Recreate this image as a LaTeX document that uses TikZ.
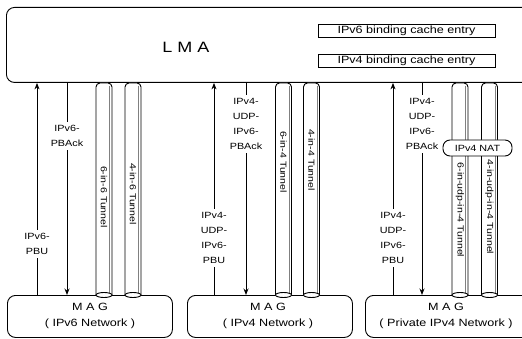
\documentclass[tikz,border=0pt]{standalone}
\usepackage{fontspec}
\setmainfont{Liberation Sans}[FakeStretch=1.2]
\usetikzlibrary{arrows.meta}
\newcommand\mytube[4]{%
  \draw[rounded corners=4pt, fill=white] (#1-8,295) -- (#1-8,83) -- (#1+8,83) -- (#1+8,295);
  \draw[gray, line width=0.4pt] (#1+5.5,86) -- (#1+5.5,293);
  \draw[fill=white] (#1,295) ellipse [x radius=8, y radius=2.5];
  \node[tun] (#4) at (#1,#2) {#3};
}
\begin{document}
\begin{tikzpicture}[x=1pt,y=-1pt, line width=0.9pt,
  lbl/.style={font=\fontsize{9}{15}\selectfont, align=center, inner sep=3pt},
  tun/.style={font=\fontsize{8.8}{10}\selectfont, rotate=-90, inner sep=0pt},
  arr/.style={-{Stealth[length=6.5pt,width=5pt]}},
  box/.style={draw, rounded corners=8pt, anchor=north west, inner sep=0pt},
  entry/.style={draw, minimum width=177pt, minimum height=13pt, inner sep=0pt, font=\fontsize{10.5}{12}\selectfont},
  magtxt/.style={align=center, font=\fontsize{10.5}{16}\selectfont}
]
\useasboundingbox (0,0) rectangle (522,339);
% LMA
\node[box, minimum width=540pt, minimum height=75pt] (lma) at (6,7) {};
\node[font=\fontsize{15}{18}\selectfont] (lmat) at (186,47) {L M A};
\node[entry] (b6) at (406.5,31) {IPv6 binding cache entry};
\node[entry] (b4) at (406.5,60.5) {IPv4 binding cache entry};
% MAG boxes
\node[box, minimum width=165pt, minimum height=42pt] (mag1) at (7,295) {};
\node[box, minimum width=165pt, minimum height=42pt] (mag2) at (187,295) {};
\node[box, minimum width=175pt, minimum height=42pt] (mag3) at (365,295) {};
\node[magtxt] (m1t) at (90,316) {M A G\\( IPv6 Network )};
\node[magtxt] (m2t) at (268,316) {M A G\\( IPv4 Network )};
\node[magtxt] (m3t) at (446,316) {M A G\\( Private IPv4 Network )};
% labels
\node[lbl] (pbu1) at (37,244) {IPv6-\\PBU};
\node[lbl] (ack1) at (67,136) {IPv6-\\PBAck};
\node[lbl] (pbu2) at (214,238) {IPv4-\\UDP-\\IPv6-\\PBU};
\node[lbl] (ack2) at (246,124) {IPv4-\\UDP-\\IPv6-\\PBAck};
\node[lbl] (pbu3) at (393,238) {IPv4-\\UDP-\\IPv6-\\PBU};
\node[lbl] (ack3) at (422,124) {IPv4-\\UDP-\\IPv6-\\PBAck};
% arrows
\foreach \p/\a/\m in {pbu1/ack1/mag1, pbu2/ack2/mag2, pbu3/ack3/mag3}{
  \draw (\p |- \m.north) -- (\p.south);
  \draw[arr] (\p.north) -- (\p |- lma.south);
  \draw (\a |- lma.south) -- (\a.north);
  \draw[arr] (\a.south) -- (\a |- \m.north);
}
% tunnels
\mytube{104}{197}{6-in-6 Tunnel}{t1}
\mytube{133}{194}{4-in-6 Tunnel}{t2}
\mytube{283.5}{162}{6-in-4 Tunnel}{t3}
\mytube{311.5}{160}{4-in-4 Tunnel}{t4}
\mytube{460}{210}{6-in-udp-in-4 Tunnel}{t5}
\mytube{489.5}{207}{4-in-udp-in-4 Tunnel}{t6}
\node[draw, fill=white, rounded corners=7pt, minimum width=69pt, minimum height=16pt, inner sep=0pt, font=\fontsize{9}{10}\selectfont] (nat) at (477.5,148) {IPv4 NAT};
\end{tikzpicture}
\end{document}
